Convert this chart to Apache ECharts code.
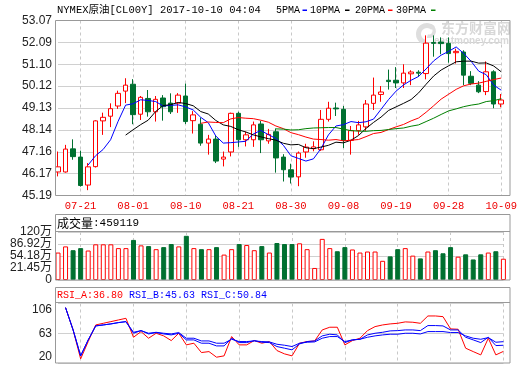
<!DOCTYPE html>
<html><head><meta charset="utf-8">
<script src="https://cdn.jsdelivr.net/npm/echarts@6/dist/echarts.min.js"></script>
<style>html,body{margin:0;padding:0;background:#fff}#c{width:520px;height:365px}</style>
</head><body><div id="c"></div>
<script>
const dates = ['07-18','07-19','07-20','07-21','07-24','07-25','07-26','07-27','07-28','07-31','08-01','08-02','08-03','08-04','08-07','08-08','08-09','08-10','08-11','08-14','08-15','08-16','08-17','08-18','08-21','08-22','08-23','08-24','08-25','08-28','08-29','08-30','08-31','09-01','09-04','09-05','09-06','09-07','09-08','09-11','09-12','09-13','09-14','09-15','09-18','09-19','09-20','09-21','09-22','09-25','09-26','09-27','09-28','09-29','10-02','10-03','10-04','10-05','10-06','10-09'];
const opens = [46.25,46.25,47.29,46.92,45.66,46.49,48.55,48.76,49.22,49.89,50.20,48.85,49.56,48.96,49.58,49.35,49.35,49.67,48.56,48.40,47.55,47.73,46.83,47.15,48.89,47.70,47.70,48.41,47.65,48.06,46.92,46.35,46.03,47.15,47.30,47.25,48.62,49.13,49.07,47.67,48.11,48.28,49.34,49.74,50.38,50.38,50.26,50.67,50.74,50.68,52.08,52.10,52.04,51.62,51.65,50.56,50.16,49.87,50.76,49.31];
const closes = [46.48,47.28,46.94,45.64,46.48,48.55,48.71,49.10,49.79,50.16,48.83,49.61,48.96,49.52,49.19,48.96,49.71,48.52,48.82,47.55,47.73,46.74,46.92,48.89,47.70,47.92,48.37,47.70,47.94,46.88,46.35,46.02,47.10,47.37,47.38,48.62,49.12,49.09,47.67,48.11,48.37,49.31,49.71,49.85,50.32,50.26,50.70,50.75,50.70,52.05,52.04,52.03,51.58,51.68,50.61,50.24,49.86,50.76,49.31,49.49];
const lows = [46.05,46.22,46.80,45.59,45.43,46.45,47.92,48.27,49.09,49.35,48.40,48.59,48.74,48.52,48.56,48.86,48.91,48.41,47.98,47.43,47.03,46.65,46.50,46.95,47.38,47.40,47.38,47.10,47.52,46.22,45.82,45.73,45.61,46.89,47.18,47.20,48.52,48.77,47.33,47.03,47.92,48.10,49.04,49.41,49.96,50.03,50.03,50.16,50.53,50.42,51.44,51.55,51.17,51.13,50.16,50.16,49.80,49.71,49.12,49.16];
const highs = [47.17,47.47,47.72,47.21,46.65,48.58,48.92,49.34,49.91,50.47,50.43,49.67,49.94,49.67,49.71,49.79,49.80,50.23,48.99,48.70,47.92,47.88,47.17,48.92,48.96,48.07,48.52,48.55,48.19,48.21,47.05,46.62,47.17,47.52,47.63,49.04,49.41,49.37,49.22,48.32,48.55,49.49,50.50,50.12,50.86,50.97,51.10,50.83,50.83,52.40,52.40,52.31,52.31,51.80,51.73,50.79,50.34,51.23,50.83,49.76];
const ma5 = ['-','-','-','-',46.56,46.98,47.26,47.70,48.53,49.26,49.32,49.50,49.47,49.42,49.22,49.25,49.27,49.18,49.04,48.71,48.47,47.87,47.55,47.57,47.60,47.63,47.96,48.12,47.93,47.76,47.45,46.98,46.86,46.74,46.84,47.30,47.92,48.32,48.38,48.52,48.47,48.51,48.63,49.07,49.51,49.89,50.17,50.38,50.55,50.89,51.25,51.51,51.68,51.88,51.59,51.23,50.79,50.63,50.16,49.93];
const ma10 = ['-','-','-','-','-','-','-','-','-',47.91,48.15,48.38,48.58,48.97,49.24,49.28,49.38,49.33,49.23,48.97,48.86,48.57,48.37,48.30,48.15,48.05,47.92,47.83,47.75,47.68,47.54,47.47,47.49,47.34,47.30,47.37,47.45,47.59,47.56,47.68,47.89,48.21,48.48,48.72,49.02,49.18,49.34,49.51,49.81,50.20,50.57,50.84,51.03,51.21,51.24,51.24,51.15,51.16,51.02,50.76];
const ma20 = ['-','-','-','-','-','-','-','-','-','-','-','-','-','-','-','-','-','-','-',48.44,48.50,48.48,48.47,48.64,48.70,48.67,48.65,48.58,48.49,48.32,48.20,48.02,47.93,47.82,47.73,47.71,47.68,47.71,47.65,47.68,47.71,47.84,47.98,48.03,48.16,48.28,48.39,48.55,48.68,48.94,49.23,49.53,49.75,49.97,50.13,50.21,50.25,50.33,50.41,50.48];
const ma30 = ['-','-','-','-','-','-','-','-','-','-','-','-','-','-','-','-','-','-','-','-','-','-','-','-','-','-','-','-','-',48.19,48.18,48.14,48.15,48.20,48.23,48.24,48.25,48.25,48.18,48.11,48.09,48.08,48.11,48.12,48.16,48.20,48.23,48.31,48.37,48.52,48.67,48.84,49.00,49.09,49.19,49.26,49.31,49.42,49.46,49.55];
// volume in axis units (axis top = 120万)
const volumes = [68.6,84.0,74.5,79.7,73.7,89.2,89.2,89.2,79.7,79.7,100.2,86.6,84.8,77.1,82.2,89.9,84.0,110.5,79.7,77.1,77.1,82.2,63.5,77.1,89.9,87.4,74.5,84.8,68.6,92.5,89.9,89.9,91.7,77.1,30.1,102.8,79.7,71.9,82.2,76.3,68.6,71.2,71.2,48.0,59.1,77.1,79.7,60.9,54.0,71.2,74.5,66.8,82.2,58.3,64.2,51.4,64.2,68.6,71.9,53.2];
const rsiA = ['-',100,67.8,26.0,51.0,75.0,77.4,79.8,82.2,84.6,57.2,65.4,55.8,63.0,59.2,52.4,63.0,46.2,48.6,35.1,36.5,28.4,30.3,58.2,46.2,46.2,52.4,48.6,51.0,38.0,33.2,30.3,48.6,51.0,51.9,67.8,71.7,71.7,46.2,52.4,55.8,66.8,72.6,75.0,76.5,77.4,79.4,78.9,77.4,88.0,88.0,87.0,69.3,68.8,41.4,36.5,31.7,55.8,31.7,36.80];
const rsiB = ['-',100,67.8,30.3,53.4,73.6,75.0,76.5,78.4,79.8,63.0,66.8,62.0,64.0,62.0,60.6,63.0,53.4,53.4,48.6,48.6,44.7,44.7,55.8,49.5,49.5,52.4,50.0,49.5,43.8,41.4,39.0,47.6,51.0,51.9,59.2,61.6,60.6,49.5,53.4,54.3,60.6,63.0,64.4,66.4,66.8,67.8,67.8,66.8,74.1,74.1,73.6,67.8,67.8,57.2,53.4,49.5,57.2,45.2,45.63];
const rsiC = ['-',100,67.8,30.3,53.4,73.6,75.0,76.5,78.4,79.8,64.4,66.8,63.0,64.4,63.0,62.0,64.0,55.8,55.8,51.9,51.9,48.6,48.6,54.3,51.0,51.0,51.9,51.0,50.5,47.1,45.7,43.8,48.6,50.0,50.5,55.8,58.2,58.2,51.0,53.4,54.3,57.2,59.2,60.6,61.6,61.6,63.0,63.0,62.0,65.4,65.4,65.4,64.0,64.0,59.2,55.8,54.3,56.7,50.0,50.84];
const priceTicks = [45.19,46.17,47.16,48.14,49.13,50.12,51.10,52.09,53.07];
const volTickValues = [0,30,60,90,120];
const volTickLabels = ['0','21.45万','54.18万','86.92万','120万'];
const rsiTicks = [20,63,106];
const titleText = 'NYMEX原油[CL00Y] 2017-10-10 04:04';
const legendNames = ['5PMA','10PMA','20PMA','30PMA'];
const volHeader = ['成交量', ':459119'];
const rsiHeader = ['RSI_A:36.80', 'RSI_B:45.63', 'RSI_C:50.84'];

const UP = '#ff0000', DOWN = '#007030';
const MA_COLORS = ['#0000ff', '#000000', '#ff0000', '#008000'];
const MONO = '"Liberation Mono","DejaVu Sans Mono","Noto Sans CJK SC",monospace';
const SANS = '"Liberation Sans",Arial,"Noto Sans CJK SC",sans-serif';
const showAt = (i) => (i - 3) % 7 === 0;

const chart = echarts.init(document.getElementById('c'), null, {renderer: 'canvas'});
const candleData = dates.map((d, i) => [opens[i], closes[i], lows[i], highs[i]]);
const volData = volumes.map((v, i) => ({
  value: v,
  itemStyle: closes[i] >= opens[i]
    ? {color: '#ffffff', borderColor: UP, borderWidth: 1}
    : {color: DOWN, borderColor: DOWN, borderWidth: 1}
}));

const L = 58, R = 520 - 503.4;
function xAxis(gi, showLabel) {
  return {
    type: 'category', gridIndex: gi, data: dates, boundaryGap: false,
    axisLine: {show: false}, axisTick: {show: false},
    axisLabel: {show: showLabel, interval: (i) => showAt(i), color: '#ee0000', fontFamily: MONO, fontSize: 10.5, margin: 5},
    splitLine: {show: true, interval: (i) => showAt(i), lineStyle: {color: '#c8c8c8', type: [3, 3], width: 1}}
  };
}
const lineS = (name, data, color, xi, yi) => ({
  name, type: 'line', data, xAxisIndex: xi, yAxisIndex: yi, symbol: 'none', z: 3,
  lineStyle: {color, width: 1}, itemStyle: {color}, animation: false, connectNulls: false, clip: false
});

const legendX = [276, 310, 355, 396];
const dashX = [302.5, 345, 388, 431];
const legendGraphics = [];
legendNames.forEach((n, k) => {
  legendGraphics.push({type: 'text', silent: true, z: 50, x: legendX[k], y: 10, style: {text: n, font: '10px ' + MONO, fill: '#000', verticalAlign: 'middle'}});
  legendGraphics.push({type: 'rect', silent: true, z: 50, shape: {x: dashX[k], y: 9.5, width: 4.5, height: 1.5}, style: {fill: MA_COLORS[k]}});
});

chart.setOption({
  animation: false,
  backgroundColor: '#ffffff',
  grid: [
    {left: L, right: R, top: 20.5, height: 175},
    {left: L, right: R, top: 232, height: 48},
    {left: L, right: R, top: 303.5, height: 59.5}
  ],
  xAxis: [xAxis(0, true), xAxis(1, false), xAxis(2, false)],
  yAxis: [
    {type: 'value', gridIndex: 0, min: 45.19, max: 53.07,
     axisLine: {show: false}, axisTick: {show: false, customValues: priceTicks},
     axisLabel: {customValues: priceTicks, formatter: (v) => v.toFixed(2), color: '#222', fontFamily: SANS, fontSize: 12, margin: 6},
     splitLine: {show: true, lineStyle: {color: '#d0d0d0', width: 1}}},
    {type: 'value', gridIndex: 1, min: 0, max: 120, interval: 30,
     axisLine: {show: false}, axisTick: {show: false},
     axisLabel: {formatter: (v) => volTickLabels[volTickValues.indexOf(v)], color: '#222', fontFamily: SANS, fontSize: 12, margin: 6},
     splitLine: {show: true, lineStyle: {color: '#d0d0d0', width: 1}}},
    {type: 'value', gridIndex: 2, min: 20, max: 106,
     axisLine: {show: false}, axisTick: {show: false, customValues: rsiTicks},
     axisLabel: {customValues: rsiTicks, color: '#222', fontFamily: SANS, fontSize: 12, margin: 6,
       formatter: (v) => v === rsiTicks[2] ? '{t|' + v + '}' : (v === rsiTicks[0] ? '{b|' + v + '}' : '{m|' + v + '}'),
       rich: {t: {padding: [13, 0, 0, 0], fontSize: 12, fontFamily: SANS, color: '#222'},
              b: {padding: [0, 0, 13, 0], fontSize: 12, fontFamily: SANS, color: '#222'},
              m: {fontSize: 12, fontFamily: SANS, color: '#222'}}},
     splitLine: {show: true, lineStyle: {color: '#d0d0d0', width: 1}}}
  ],
  series: [
    {name: 'K', type: 'candlestick', data: candleData, xAxisIndex: 0, yAxisIndex: 0, barWidth: 5, clip: false, z: 2,
     itemStyle: {color: '#ffffff', color0: DOWN, borderColor: UP, borderColor0: DOWN, borderWidth: 1}},
    lineS(legendNames[0], ma5, MA_COLORS[0], 0, 0),
    lineS(legendNames[1], ma10, MA_COLORS[1], 0, 0),
    lineS(legendNames[2], ma20, MA_COLORS[2], 0, 0),
    lineS(legendNames[3], ma30, MA_COLORS[3], 0, 0),
    {name: 'VOL', type: 'bar', data: volData, xAxisIndex: 1, yAxisIndex: 1, barWidth: 5, clip: false},
    lineS('RSI_A', rsiA, '#ff0000', 2, 2),
    lineS('RSI_B', rsiB, '#0000ff', 2, 2),
    lineS('RSI_C', rsiC, '#0000ff', 2, 2)
  ],
  graphic: [
    {type: 'rect', silent: true, z: 50, shape: {x: 55.5, y: 20.5, width: 454.5, height: 175}, style: {fill: 'none', stroke: '#999', lineWidth: 1}},
    {type: 'rect', silent: true, z: 50, shape: {x: 55.5, y: 214.5, width: 454.5, height: 65.5}, style: {fill: 'none', stroke: '#999', lineWidth: 1}},
    {type: 'line', silent: true, z: 50, shape: {x1: 55.5, y1: 231.5, x2: 510, y2: 231.5}, style: {stroke: '#999', lineWidth: 1}},
    {type: 'rect', silent: true, z: 50, shape: {x: 55.5, y: 287.5, width: 454.5, height: 75.5}, style: {fill: 'none', stroke: '#999', lineWidth: 1}},
    {type: 'line', silent: true, z: 50, shape: {x1: 55.5, y1: 302.5, x2: 510, y2: 302.5}, style: {stroke: '#999', lineWidth: 1}},
    {type: 'text', silent: true, z: 50, x: 57, y: 10, style: {text: titleText, font: '10.5px ' + MONO, fill: '#000', verticalAlign: 'middle'}},
    ...legendGraphics,
    {type: 'sector', silent: true, z: 1, shape: {cx: 427, cy: 34, r: 11, r0: 6, startAngle: Math.PI * 0.55, endAngle: Math.PI * 1.75}, style: {fill: '#dedede'}},
    {type: 'sector', silent: true, z: 1, shape: {cx: 429, cy: 31, r: 7, r0: 3.5, startAngle: -Math.PI * 0.45, endAngle: Math.PI * 0.6}, style: {fill: '#dedede'}},
    {type: 'text', silent: true, z: 1, x: 441, y: 28, style: {text: '东方财富网', font: 'bold 14px "Noto Sans CJK SC",sans-serif', fill: '#d8d8d8', verticalAlign: 'middle'}},
    {type: 'text', silent: true, z: 1, x: 434, y: 41, style: {text: 'eastmoney.com', font: 'bold 10px ' + SANS, fill: '#d8d8d8', verticalAlign: 'middle'}},
    {type: 'text', silent: true, z: 50, x: 57, y: 223, style: {text: '{c|' + volHeader[0] + '}{d|' + volHeader[1] + '}', verticalAlign: 'middle',
      rich: {c: {font: '12px "Noto Sans CJK SC",sans-serif', fill: '#000'}, d: {font: '11px ' + MONO, fill: '#000'}}}},
    {type: 'text', silent: true, z: 50, x: 57, y: 295, style: {text: '{a|' + rsiHeader[0] + '} {b|' + rsiHeader[1] + '} {b|' + rsiHeader[2] + '}', verticalAlign: 'middle', font: '10px ' + MONO,
      rich: {a: {font: '10px ' + MONO, fill: '#ff0000'}, b: {font: '10px ' + MONO, fill: '#0000ff'}}}}
  ]
});
</script></body></html>
